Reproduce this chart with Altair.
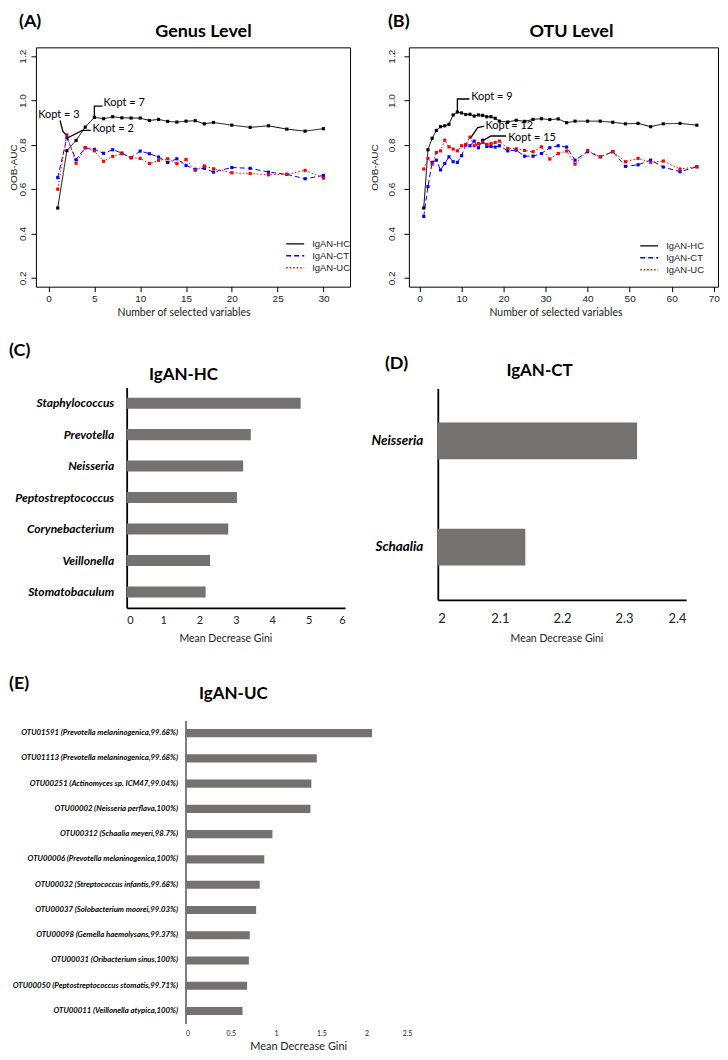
import altair as alt
import pandas as pd

# ---------------- data ----------------
SERIES = ["IgAN-HC", "IgAN-CT", "IgAN-UC"]
SERIES_COLORS = ["#000000", "#0000ff", "#ff0000"]
SERIES_DASHES = [[1, 0], [5, 3], [1.5, 2]]

# Panel A (genus level)
A_X = [1, 2, 3, 4, 5, 6, 7, 8, 9, 10, 11, 12, 13, 14, 15, 16, 17, 18, 20, 22, 24, 26, 28, 30]
A_HC = [0.515, 0.774, 0.82, 0.88, 0.924, 0.918, 0.927, 0.922, 0.921, 0.921, 0.91, 0.915,
        0.906, 0.903, 0.907, 0.909, 0.895, 0.901, 0.889, 0.879, 0.886, 0.871, 0.862, 0.873]
A_CT = [0.652, 0.832, 0.733, 0.787, 0.78, 0.762, 0.778, 0.763, 0.742, 0.772, 0.76, 0.745,
        0.72, 0.737, 0.707, 0.69, 0.694, 0.677, 0.698, 0.694, 0.677, 0.667, 0.647, 0.662]
A_UC = [0.6, 0.845, 0.717, 0.787, 0.773, 0.726, 0.748, 0.76, 0.742, 0.739, 0.716, 0.73,
        0.737, 0.715, 0.734, 0.685, 0.705, 0.692, 0.674, 0.671, 0.665, 0.667, 0.685, 0.65]

# Panel B (OTU level)
B_X = [1, 2, 3, 4, 5, 6, 7, 8, 9, 10, 11, 12, 13, 14, 15, 16, 17, 18, 19,
       21, 23, 25, 27, 29, 31, 33, 35, 37, 40, 43, 46, 49, 52, 55, 58, 62, 66]
B_HC = [0.515, 0.778, 0.83, 0.865, 0.882, 0.886, 0.893, 0.935, 0.948, 0.944, 0.937, 0.938,
        0.93, 0.935, 0.933, 0.927, 0.927, 0.92, 0.907, 0.903, 0.911, 0.906, 0.915, 0.918,
        0.914, 0.917, 0.9, 0.907, 0.907, 0.907, 0.902, 0.895, 0.897, 0.882, 0.895, 0.897, 0.889]
B_CT = [0.477, 0.612, 0.721, 0.731, 0.687, 0.716, 0.746, 0.724, 0.721, 0.751, 0.799, 0.796,
        0.817, 0.787, 0.821, 0.793, 0.793, 0.79, 0.796, 0.773, 0.776, 0.749, 0.749, 0.761,
        0.787, 0.796, 0.79, 0.731, 0.769, 0.746, 0.769, 0.703, 0.71, 0.731, 0.7, 0.679, 0.701]
B_UC = [0.691, 0.739, 0.713, 0.766, 0.773, 0.821, 0.791, 0.781, 0.773, 0.796, 0.802, 0.835,
        0.796, 0.806, 0.811, 0.802, 0.806, 0.811, 0.817, 0.784, 0.782, 0.775, 0.769, 0.791,
        0.736, 0.761, 0.772, 0.713, 0.775, 0.746, 0.769, 0.724, 0.739, 0.721, 0.727, 0.691, 0.701]

A_XTICKS = [0, 5, 10, 15, 20, 25, 30]
B_XTICKS = [0, 10, 20, 30, 40, 50, 60, 70]
AUC_TICKS = [0.2, 0.4, 0.6, 0.8, 1.0, 1.2]

# Kopt annotations (data units)
A_KOPT_LABEL = ["Kopt = 3", "Kopt = 2", "Kopt = 7"]
A_KOPT_X = [-1.13, 4.79, 5.99]
A_KOPT_Y = [0.933, 0.87, 0.99]
A_LEAD_G = [3, 3, 3, 2, 2, 2, 7, 7, 7]
A_LEAD_X = [1.26, 1.56, 1.92, 1.99, 3.7, 4.6, 5.0, 5.0, 5.88]
A_LEAD_Y = [0.91, 0.861, 0.845, 0.83, 0.865, 0.865, 0.924, 0.975, 0.975]

B_KOPT_LABEL = ["Kopt = 9", "Kopt = 12", "Kopt = 15"]
B_KOPT_X = [12.3, 15.7, 21.1]
B_KOPT_Y = [1.015, 0.887, 0.833]
B_LEAD_G = [9, 9, 9, 12, 12, 12, 15, 15, 15]
B_LEAD_X = [9.0, 9.0, 11.87, 12.2, 13.85, 15.4, 15.19, 17.0, 20.57]
B_LEAD_Y = [0.948, 1.007, 1.007, 0.833, 0.878, 0.885, 0.82, 0.84, 0.84]

# Panel C
C_TAXA = ["Staphylococcus", "Prevotella", "Neisseria", "Peptostreptococcus",
          "Corynebacterium", "Veillonella", "Stomatobaculum"]
C_GINI = [4.78, 3.41, 3.2, 3.03, 2.79, 2.29, 2.17]
C_TICKS = [0, 1, 2, 3, 4, 5, 6]

# Panel D
D_TAXA = ["Neisseria", "Schaalia"]
D_GINI = [2.321, 2.141]
D_TICKS = [2, 2.1, 2.2, 2.3, 2.4]

# Panel E
E_OTUS = ["OTU01591 (Prevotella melaninogenica,99.68%)",
          "OTU01113 (Prevotella melaninogenica,99.68%)",
          "OTU00251 (Actinomyces sp. ICM47,99.04%)",
          "OTU00002 (Neisseria perflava,100%)",
          "OTU00312 (Schaalia meyeri,98.7%)",
          "OTU00006 (Prevotella melaninogenica,100%)",
          "OTU00032 (Streptococcus infantis,99.68%)",
          "OTU00037 (Solobacterium moorei,99.03%)",
          "OTU00098 (Gemella haemolysans,99.37%)",
          "OTU00031 (Oribacterium sinus,100%)",
          "OTU00050 (Peptostreptococcus stomatis,99.71%)",
          "OTU00011 (Veillonella atypica,100%)"]
E_GINI = [2.06, 1.45, 1.39, 1.38, 0.96, 0.87, 0.82, 0.78, 0.71, 0.70, 0.68, 0.63]
E_TICKS = [0, 0.5, 1, 1.5, 2, 2.5]

BAR_COLOR = "#767171"
ONE = pd.DataFrame({"k": [0]})


def label_layer(text, x, y, size, align="center", baseline="middle", weight="bold"):
    return alt.Chart(ONE).mark_text(
        text=text, font="Lato", fontSize=size, fontWeight=weight, align=align,
        baseline=baseline, color="black"
    ).encode(x=alt.value(x), y=alt.value(y))


def auc_panel(xs, hc, ct, uc, xdom, xticks, width, kl, kx, ky, lg, lx, ly,
              legx, legy, title, title_x, letter, letter_x, ylab_pad, ytitle_x,
              xtitle_x, anchor=False):
    n = len(xs)
    df = pd.DataFrame({
        "x": xs * 3,
        "auc": hc + ct + uc,
        "series": [s for s in SERIES for _ in range(n)],
    })
    xax = alt.Axis(values=xticks, title="Number of selected variables", grid=False,
                   domain=False, tickColor="black", tickSize=5, tickWidth=1,
                   labelFont="Liberation Sans", labelFontSize=10, labelColor="#222",
                   labelPadding=2, titleFont="Lato", titleFontSize=10.5,
                   titleFontWeight="normal", titleColor="#222", titleX=xtitle_x,
                   titleY=26, titleBaseline="middle", titleAlign="center")
    yax = alt.Axis(values=AUC_TICKS, format=".1f", title="OOB-AUC", grid=False,
                   domain=False, tickColor="black", tickSize=5, tickWidth=1,
                   labelAngle=270, labelAlign="center", labelBaseline="bottom",
                   labelFont="Liberation Sans", labelFontSize=10, labelColor="#222",
                   labelPadding=ylab_pad, titleFont="Liberation Sans", titleFontSize=10,
                   titleFontWeight="normal", titleColor="#222", titleX=ytitle_x,
                   titleY=120, titleAngle=270, titleAlign="center",
                   titleBaseline="middle")
    x = alt.X("x:Q", scale=alt.Scale(domain=xdom, nice=False, zero=False), axis=xax)
    y = alt.Y("auc:Q", scale=alt.Scale(domain=[0.16, 1.24], nice=False, zero=False),
              axis=yax)
    leg = alt.Legend(title=None, orient="none", legendX=legx, legendY=legy,
                     direction="vertical", symbolType="stroke", symbolSize=324,
                     symbolStrokeWidth=1.3, labelFont="Liberation Sans",
                     labelFontSize=9.5, labelColor="#222", labelOffset=7, rowPadding=2,
                     clipHeight=10)
    cscale = alt.Scale(domain=SERIES, range=SERIES_COLORS)
    lines = alt.Chart(df).mark_line(strokeWidth=1).encode(
        x=x, y=y,
        color=alt.Color("series:N", scale=cscale, legend=leg),
        strokeDash=alt.StrokeDash("series:N",
                                  scale=alt.Scale(domain=SERIES, range=SERIES_DASHES),
                                  legend=leg),
    )
    pts = alt.Chart(df).mark_point(filled=True, shape="square", size=10, opacity=1).encode(
        x=x, y=y, color=alt.Color("series:N", scale=cscale, legend=None)
    )
    lead_df = pd.DataFrame({"x": lx, "auc": ly, "g": lg, "o": list(range(len(lx)))})
    leader = alt.Chart(lead_df).mark_line(color="black", strokeWidth=1.3).encode(
        x=x, y=y, detail="g:N", order="o:Q"
    )
    ann_df = pd.DataFrame({"x": kx, "auc": ky, "label": kl})
    ann = alt.Chart(ann_df).mark_text(align="left", baseline="middle", font="Lato",
                                      fontSize=11, color="black").encode(
        x=x, y=y, text="label:N"
    )
    layers = [lines, pts, leader, ann,
              label_layer(title, title_x, -15, 18),
              label_layer(letter, letter_x, -34, 18, align="left", baseline="top")]
    if anchor:
        layers.append(alt.Chart(ONE).mark_rect(opacity=0).encode(
            x=alt.value(-27), x2=alt.value(-26), y=alt.value(-37), y2=alt.value(-36)))
    return alt.layer(*layers).properties(
        width=width, height=240,
        view=alt.ViewBackground(stroke="black", strokeWidth=1),
    )


def bar_panel(names, vals, dom, ticks, base, xrange, yrange, width, height, pin, pout,
              ylab_size, ylab_pad, ydom_w, xlab_size, xlab_pad, xdomain, xtitle_x,
              xtitle_y, xtitle_size, title, title_x, title_y, letter, letter_x, letter_y):
    df = pd.DataFrame({"name": names, "gini": vals})
    xax = alt.Axis(values=ticks, format="~g", title="Mean Decrease Gini", grid=False,
                   ticks=False, domain=xdomain, domainColor="black", domainWidth=1.8,
                   labelFont="Lato", labelFontSize=xlab_size, labelColor="#222",
                   labelPadding=xlab_pad, titleFont="Lato", titleFontSize=xtitle_size,
                   titleFontWeight="normal", titleColor="#222", titleX=xtitle_x,
                   titleY=xtitle_y, titleBaseline="middle", titleAlign="center")
    yax = alt.Axis(title=None, ticks=False, grid=False, domainColor="black",
                   domainWidth=ydom_w, labelFont="Lato", labelFontSize=ylab_size,
                   labelFontStyle="italic", labelFontWeight="bold", labelColor="black",
                   labelPadding=ylab_pad, labelLimit=400, offset=-xrange[0])
    x = alt.X("gini:Q", scale=alt.Scale(domain=dom, range=xrange, nice=False, zero=False),
              axis=xax)
    y = alt.Y("name:N", sort=names,
              scale=alt.Scale(range=yrange, paddingInner=pin, paddingOuter=pout), axis=yax)
    bars = alt.Chart(df).mark_bar(color=BAR_COLOR).encode(x=x, x2=alt.datum(base), y=y)
    return alt.layer(
        bars,
        label_layer(title, title_x, title_y, 17),
        label_layer(letter, letter_x, letter_y, 18, align="left"),
    ).properties(width=width, height=height)


panel_a = auc_panel(A_X, A_HC, A_CT, A_UC, [-1.38, 32.9], A_XTICKS, 315,
                    A_KOPT_LABEL, A_KOPT_X, A_KOPT_Y, A_LEAD_G, A_LEAD_X, A_LEAD_Y,
                    250, 192, "Genus Level", 168, "(A)", -17, 3, -22, 148, anchor=True)
panel_b = auc_panel(B_X, B_HC, B_CT, B_UC, [-2.54, 71.03], B_XTICKS, 310,
                    B_KOPT_LABEL, B_KOPT_X, B_KOPT_Y, B_LEAD_G, B_LEAD_X, B_LEAD_Y,
                    231, 194, "OTU Level", 163, "(B)", -21, 7, -34, 147)

panel_c = bar_panel(C_TAXA, C_GINI, [0, 6], C_TICKS, 0, [91, 310], [0, 221], 315, 221,
                    0.65, 0.325, 12, 13, 1.8, 11, 7, True, 190, 31, 10.5,
                    "IgAN-HC", 148, -12, "(C)", -27, -36)
panel_d = bar_panel(D_TAXA, D_GINI, [2, 2.4], D_TICKS, 2, [29, 278], [1, 213], 310, 213,
                    0.654, 0.322, 13.5, 15, 1.8, 13, 13, True, 148, 39, 10.5,
                    "IgAN-CT", 131, -16, "(D)", -24, -23)
panel_e = bar_panel(E_OTUS, E_GINI, [0, 2.5], E_TICKS, 0, [150, 377], [12, 316], 315, 316,
                    0.68, 0.34, 7.8, 8, 1, 7, 6, False, 263, 23, 11,
                    "IgAN-UC", 198, -15, "(E)", -27, -25)

chart = alt.concat(
    panel_a, panel_b, panel_c, panel_d, panel_e,
    columns=2, spacing={"row": 101, "column": 59}, bounds="flush", align="each",
).resolve_scale(
    color="independent", strokeDash="independent"
).resolve_legend(
    color="independent", strokeDash="independent"
).properties(padding=0).configure_view(stroke="transparent")

chart.save("out.html", embed_options={"renderer": "svg", "actions": False})
